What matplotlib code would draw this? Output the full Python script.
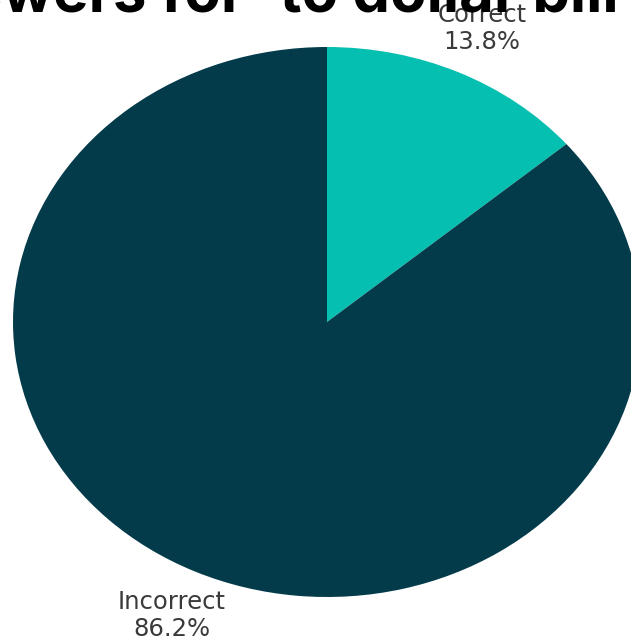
import matplotlib.pyplot as plt

labels = ['Correct', 'Incorrect']
shares = [13.8, 86.2]
colors = ['#05BFB0', '#033B4A']
title = "Answers for 'to dollar bill'"

fig = plt.figure(figsize=(6.31, 6.41), dpi=100)
# axes box spans the (stretched) pie exactly
ax = fig.add_axes([13 / 631, 44 / 641, 628 / 631, 550 / 641])

wedges, texts = ax.pie(shares, colors=colors, startangle=90, counterclock=False,
                       labels=[f'{l}\n{v:.1f}%' for l, v in zip(labels, shares)],
                       labeldistance=1.175,
                       textprops=dict(fontsize=17.5, color='#3a3a3a', linespacing=1.15))
for t in texts:
    t.set_ha('center')
ax.set_aspect('auto')
ax.set_xlim(-1, 1)
ax.set_ylim(-1, 1)

# big heading, mostly cropped by the top edge
fig.text(-0.179, 1 - 12 / 641, title, fontsize=43, fontweight='bold',
         color='black', ha='left', va='baseline', family='Inter')

fig.savefig('out.png', dpi=100)
